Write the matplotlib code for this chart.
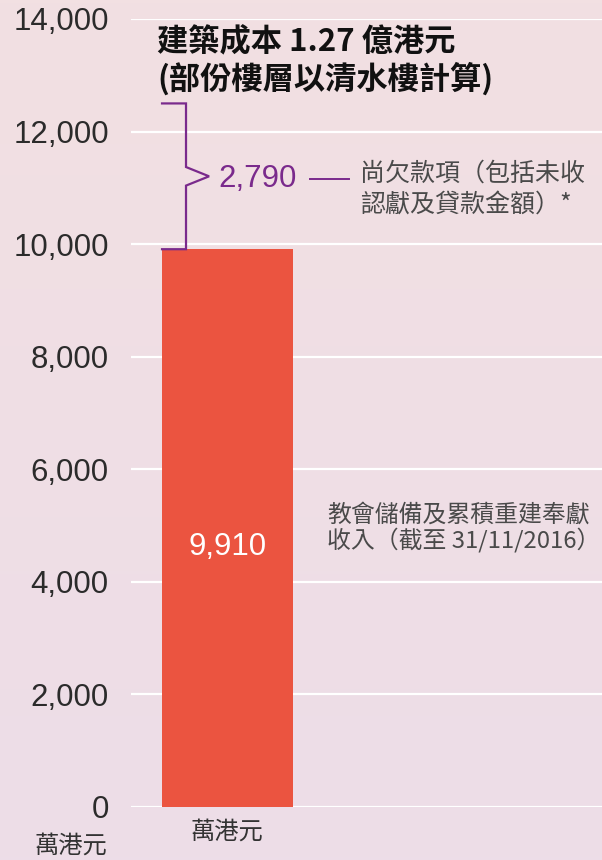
import numpy as np
import matplotlib
matplotlib.use("Agg")
import matplotlib.pyplot as plt
from matplotlib.colors import LinearSegmentedColormap

plt.rcParams['font.family'] = ['Noto Sans CJK TC', 'DejaVu Sans']

# data (萬港元)
bar_value = 9910
owed = 2790
y_ticks = [0, 2000, 4000, 6000, 8000, 10000, 12000, 14000]
y_labels = ["0", "2,000", "4,000", "6,000", "8,000", "10,000", "12,000", "14,000"]
title_txt = "建築成本 1.27 億港元\n(部份樓層以清水樓計算)"
owed_txt = "尚欠款項（包括未收\n認獻及貸款金額）*"
bar_txt = "教會儲備及累積重建奉獻\n收入（截至 31/11/2016）"
unit = "萬港元"

bar_col = "#EB5440"
purple = "#7A2A8C"
grey = "#4a4a4a"
latin = ['Liberation Sans', 'DejaVu Sans']

W, H = 602, 860
fig = plt.figure(figsize=(W / 100, H / 100), dpi=100)

# background gradient pink -> lavender
bg = fig.add_axes([0, 0, 1, 1])
cmap = LinearSegmentedColormap.from_list("bg", ["#F2E0E2", "#EDDDE8"])
bg.imshow(np.linspace(0, 1, 256).reshape(-1, 1), aspect="auto", cmap=cmap,
          extent=[0, 1, 0, 1])
bg.axis("off")

# main axes: gridlines run from x=131px to the right edge
y0_px, ytop_px = 807, 19
ax = fig.add_axes([131 / W, (H - y0_px) / H, 1 - 131 / W, (y0_px - ytop_px) / H])
ax.patch.set_alpha(0)
ax.set_xlim(-0.737, 2.859)
ax.set_ylim(0, 14000)
for s in ax.spines.values():
    s.set_visible(False)
ax.set_yticks(y_ticks)
ax.set_yticklabels(y_labels, family=latin, fontsize=22.5, color="#2b2b2b",
                   va="center_baseline")
ax.tick_params(axis="y", length=0, pad=16)
ax.set_xticks([])
ax.grid(axis="y", color="white", linewidth=1.6)
ax.set_axisbelow(True)

ax.bar([0], [bar_value], width=1.0, color=bar_col, zorder=3)
ax.text(0, bar_value * 0.466, f"{bar_value:,}", color="white", fontsize=22.5,
        family=latin, ha="center", va="center", zorder=4)

# brace for the amount still owed
brace_top = 12500  # drawn a little short of the 12,700 total, as in the source
mid = (bar_value + brace_top) / 2
xv, xl, xt = -0.317, -0.5, -0.141
notch = 165
bx = [xl, xv, xv, xt, xv, xv, xl]
by = [brace_top, brace_top, mid + notch, mid, mid - notch, bar_value, bar_value]
ax.plot(bx, by, color=purple, linewidth=1.6, clip_on=False, zorder=4,
        solid_joinstyle="miter")
ax.text(-0.073, mid - 40, f"{owed:,}", color=purple, fontsize=22.5,
        family=latin, ha="left", va="center")
ax.plot([0.63, 0.927], [mid - 40, mid - 40], color=purple, linewidth=1.4)
ax.text(1.011, mid - 230, owed_txt, color=grey, fontsize=18, ha="left",
        va="center", linespacing=1.25)

ax.text(0.76, bar_value / 2, bar_txt, color=grey, fontsize=17.2, ha="left",
        va="center", linespacing=1.05)

# title above the bar
fig.text(157 / W, 1 - 61 / H, title_txt, fontsize=22.5, fontweight="bold",
         color="#111111", ha="left", va="center", linespacing=1.15)

# unit labels
fig.text(227 / W, 1 - 832 / H, unit, fontsize=17.5, color="#333333",
         ha="center", va="center")
fig.text(71 / W, 1 - 846 / H, unit, fontsize=17.5, color="#333333",
         ha="center", va="center")

fig.savefig("out.png", dpi=100)
